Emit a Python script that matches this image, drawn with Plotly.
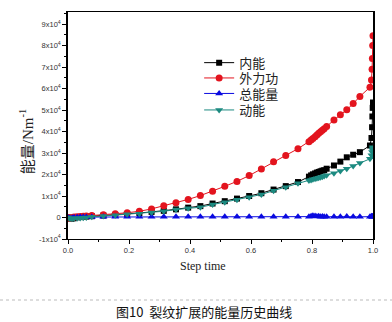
import plotly.graph_objects as go

step_time = [0.0, 0.005, 0.01, 0.015, 0.02, 0.03, 0.04, 0.05, 0.06, 0.078, 0.116, 0.155, 0.194,
             0.234, 0.274, 0.314, 0.354, 0.394, 0.434, 0.474, 0.514, 0.554, 0.594, 0.634, 0.674,
             0.714, 0.754, 0.79, 0.797, 0.803, 0.81, 0.816, 0.822, 0.828, 0.834, 0.84, 0.848,
             0.872, 0.893, 0.914, 0.935, 0.957, 0.99, 0.995, 0.997, 0.998, 0.999, 1.0]

# values in units of 10 Nm^-1
internal_energy = [0, -30, -50, -40, -30, 10, 20, 30, 40, 60, 90, 120, 160, 210, 260, 310, 380,
                   460, 530, 650, 760, 880, 1000, 1130, 1300, 1460, 1650, 1900, 1960, 2010, 2050,
                   2090, 2120, 2150, 2180, 2200, 2270, 2420, 2600, 2800, 2920, 3040, 3350, 3700,
                   4200, 4700, 5100, 5350]

external_work = [0, -30, -20, 0, 20, 40, 50, 60, 70, 90, 130, 180, 220, 290, 400, 550, 690, 840,
                 1020, 1220, 1450, 1680, 1950, 2260, 2590, 2890, 3200, 3520, 3600, 3680, 3760,
                 3840, 3920, 3990, 4060, 4130, 4230, 4540, 4780, 5010, 5300, 5630, 6060, 6400,
                 6900, 7400, 8000, 8450]

total_energy = [0, -40, -30, -20, 0, 10, 20, 20, 20, 20, 30, 30, 30, 30, 30, 30, 30, 30, 30, 30,
                30, 30, 30, 30, 30, 30, 30, 40, 60, 80, 70, 50, 60, 40, 50, 40, 30, 40, 30, 50,
                40, 30, 40, 60, 50, 40, 50, 40]

kinetic_energy = [0, -50, -60, -50, -40, -30, -20, -10, 0, 30, 70, 110, 150, 180, 230, 290,
                  370, 430, 480, 600, 710, 830, 940, 1070, 1250, 1410, 1590, 1720, 1750, 1780,
                  1800, 1830, 1850, 1870, 1900, 1930, 1970, 2060, 2160, 2270, 2400, 2530, 2730,
                  2900, 3050, 3150, 3220, 3270]

scale = 10

series = [
    ("内能", internal_energy, "#000000", "square", 6),
    ("外力功", external_work, "#e3141e", "circle", 7),
    ("总能量", total_energy, "#0a0ae0", "triangle-up", 7),
    ("动能", kinetic_energy, "#1c8a80", "triangle-down", 7),
]

y_tickvals = [-10000, 0, 10000, 20000, 30000, 40000, 50000, 60000, 70000, 80000, 90000]
y_ticktext = ["-1x10<sup>4</sup>", "0"] + [f"{i}x10<sup>4</sup>" for i in range(1, 10)]
x_tickvals = [0.0, 0.2, 0.4, 0.6, 0.8, 1.0]
x_ticktext = ["0.0", "0.2", "0.4", "0.6", "0.8", "1.0"]

legend_ids = ["legend", "legend2", "legend3", "legend4"]
legend_centers_px = [62.7, 78.0, 93.5, 110.0]

fig = go.Figure()
for (name, vals, color, symbol, size), lid in zip(series, legend_ids):
    fig.add_trace(go.Scatter(
        x=step_time, y=[v * scale for v in vals], name=name, mode="lines+markers",
        line=dict(color=color, width=1),
        marker=dict(symbol=symbol, size=size, color=color, line=dict(width=0)),
        legend=lid,
    ))

legend_font = dict(family="Noto Sans CJK SC", size=13, color="#222222")
legend_layout = {}
for lid, yc in zip(legend_ids, legend_centers_px):
    legend_layout[lid] = dict(x=0.43, y=(239 - yc) / 227, xanchor="left", yanchor="middle",
                              font=legend_font, bgcolor="rgba(0,0,0,0)", itemwidth=30)

tickfont = dict(family="Arial, Liberation Sans", size=7.5, color="#333333")
fig.update_layout(
    width=392, height=322,
    margin=dict(l=68, r=19, t=12, b=83),
    paper_bgcolor="white", plot_bgcolor="white",
    showlegend=True,
    xaxis=dict(range=[0, 1], tickmode="array", tickvals=x_tickvals, ticktext=x_ticktext,
               ticks="outside", ticklen=4, tickcolor="black", tickfont=tickfont,
               showline=True, linecolor="black", linewidth=1, mirror=True,
               showgrid=False, zeroline=False,
               minor=dict(ticks="outside", ticklen=2, tick0=0, dtick=0.1, tickcolor="black")),
    yaxis=dict(range=[-10000, 95600], tickmode="array", tickvals=y_tickvals, ticktext=y_ticktext,
               ticks="outside", ticklen=4, tickcolor="black", tickfont=tickfont,
               showline=True, linecolor="black", linewidth=1.5, mirror=True,
               showgrid=False, zeroline=False,
               minor=dict(ticks="outside", ticklen=2, tick0=0, dtick=5000, tickcolor="black")),
    **legend_layout,
)

fig.add_annotation(text="能量/Nm<sup>-1</sup>", xref="paper", yref="paper",
                   x=-0.135, y=0.43, xanchor="center", yanchor="middle", textangle=-90,
                   showarrow=False,
                   font=dict(family="Liberation Serif, Noto Sans CJK SC", size=15, color="#222222"))
fig.add_annotation(text="Step time", xref="paper", yref="paper",
                   x=0.443, y=-0.12, xanchor="center", yanchor="middle", showarrow=False,
                   font=dict(family="Liberation Serif", size=12, color="#222222"))
fig.add_annotation(text="图10  裂纹扩展的能量历史曲线", xref="paper", yref="paper",
                   x=(204 - 68) / 305, y=(239 - 311) / 227, xanchor="center", yanchor="middle",
                   showarrow=False,
                   font=dict(family="Noto Sans CJK SC", size=13, color="#111111"))
fig.add_shape(type="line", xref="paper", yref="paper",
              x0=-68 / 305, x1=(392 - 68) / 305, y0=(239 - 300) / 227, y1=(239 - 300) / 227,
              line=dict(color="#bbbbbb", width=1, dash="dot"))

fig.write_html("out.html")
